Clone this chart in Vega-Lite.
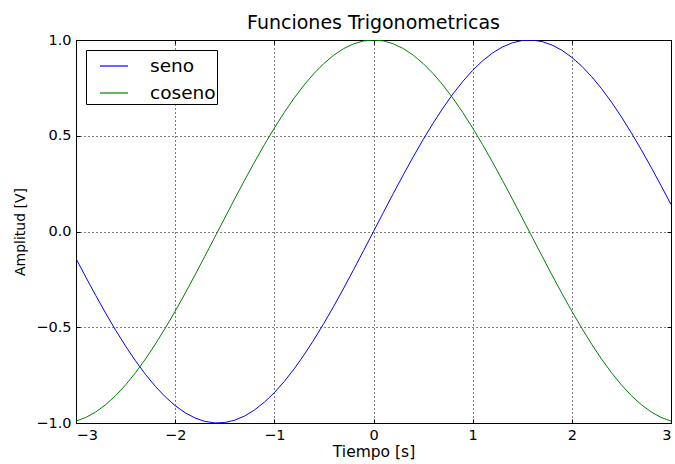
{
  "$schema": "https://vega.github.io/schema/vega-lite/v6.json",
  "autosize": "none",
  "width": 595,
  "height": 383,
  "padding": {"left": 76, "top": 40, "right": 4, "bottom": 41},
  "background": "white",
  "title": {
    "text": "Funciones Trigonometricas",
    "font": "DejaVu Sans",
    "fontSize": 19,
    "fontWeight": "normal",
    "color": "black",
    "anchor": "middle",
    "offset": -1
  },
  "config": {
    "view": {"stroke": "black", "strokeWidth": 1},
    "axis": {
      "labelFont": "DejaVu Sans",
      "labelFontSize": 14.5,
      "labelColor": "black",
      "titleFont": "DejaVu Sans",
      "titleFontWeight": "normal",
      "titleColor": "black",
      "domain": false,
      "tickColor": "black",
      "tickSize": -4,
      "tickWidth": 1,
      "gridColor": "black",
      "gridDash": [1, 3],
      "gridOpacity": 1,
      "gridWidth": 1
    }
  },
  "data": {
    "values": [
      {"t": -3.0, "seno": -0.1411, "coseno": -0.9900},
      {"t": -2.9, "seno": -0.2392, "coseno": -0.9710},
      {"t": -2.8, "seno": -0.3350, "coseno": -0.9422},
      {"t": -2.7, "seno": -0.4274, "coseno": -0.9041},
      {"t": -2.6, "seno": -0.5155, "coseno": -0.8569},
      {"t": -2.5, "seno": -0.5985, "coseno": -0.8011},
      {"t": -2.4, "seno": -0.6755, "coseno": -0.7374},
      {"t": -2.3, "seno": -0.7457, "coseno": -0.6663},
      {"t": -2.2, "seno": -0.8085, "coseno": -0.5885},
      {"t": -2.1, "seno": -0.8632, "coseno": -0.5048},
      {"t": -2.0, "seno": -0.9093, "coseno": -0.4161},
      {"t": -1.9, "seno": -0.9463, "coseno": -0.3233},
      {"t": -1.8, "seno": -0.9738, "coseno": -0.2272},
      {"t": -1.7, "seno": -0.9917, "coseno": -0.1288},
      {"t": -1.6, "seno": -0.9996, "coseno": -0.0292},
      {"t": -1.5, "seno": -0.9975, "coseno": 0.0707},
      {"t": -1.4, "seno": -0.9854, "coseno": 0.1700},
      {"t": -1.3, "seno": -0.9636, "coseno": 0.2675},
      {"t": -1.2, "seno": -0.9320, "coseno": 0.3624},
      {"t": -1.1, "seno": -0.8912, "coseno": 0.4536},
      {"t": -1.0, "seno": -0.8415, "coseno": 0.5403},
      {"t": -0.9, "seno": -0.7833, "coseno": 0.6216},
      {"t": -0.8, "seno": -0.7174, "coseno": 0.6967},
      {"t": -0.7, "seno": -0.6442, "coseno": 0.7648},
      {"t": -0.6, "seno": -0.5646, "coseno": 0.8253},
      {"t": -0.5, "seno": -0.4794, "coseno": 0.8776},
      {"t": -0.4, "seno": -0.3894, "coseno": 0.9211},
      {"t": -0.3, "seno": -0.2955, "coseno": 0.9553},
      {"t": -0.2, "seno": -0.1987, "coseno": 0.9801},
      {"t": -0.1, "seno": -0.0998, "coseno": 0.9950},
      {"t": 0.0, "seno": 0.0, "coseno": 1.0},
      {"t": 0.1, "seno": 0.0998, "coseno": 0.9950},
      {"t": 0.2, "seno": 0.1987, "coseno": 0.9801},
      {"t": 0.3, "seno": 0.2955, "coseno": 0.9553},
      {"t": 0.4, "seno": 0.3894, "coseno": 0.9211},
      {"t": 0.5, "seno": 0.4794, "coseno": 0.8776},
      {"t": 0.6, "seno": 0.5646, "coseno": 0.8253},
      {"t": 0.7, "seno": 0.6442, "coseno": 0.7648},
      {"t": 0.8, "seno": 0.7174, "coseno": 0.6967},
      {"t": 0.9, "seno": 0.7833, "coseno": 0.6216},
      {"t": 1.0, "seno": 0.8415, "coseno": 0.5403},
      {"t": 1.1, "seno": 0.8912, "coseno": 0.4536},
      {"t": 1.2, "seno": 0.9320, "coseno": 0.3624},
      {"t": 1.3, "seno": 0.9636, "coseno": 0.2675},
      {"t": 1.4, "seno": 0.9854, "coseno": 0.1700},
      {"t": 1.5, "seno": 0.9975, "coseno": 0.0707},
      {"t": 1.6, "seno": 0.9996, "coseno": -0.0292},
      {"t": 1.7, "seno": 0.9917, "coseno": -0.1288},
      {"t": 1.8, "seno": 0.9738, "coseno": -0.2272},
      {"t": 1.9, "seno": 0.9463, "coseno": -0.3233},
      {"t": 2.0, "seno": 0.9093, "coseno": -0.4161},
      {"t": 2.1, "seno": 0.8632, "coseno": -0.5048},
      {"t": 2.2, "seno": 0.8085, "coseno": -0.5885},
      {"t": 2.3, "seno": 0.7457, "coseno": -0.6663},
      {"t": 2.4, "seno": 0.6755, "coseno": -0.7374},
      {"t": 2.5, "seno": 0.5985, "coseno": -0.8011},
      {"t": 2.6, "seno": 0.5155, "coseno": -0.8569},
      {"t": 2.7, "seno": 0.4274, "coseno": -0.9041},
      {"t": 2.8, "seno": 0.3350, "coseno": -0.9422},
      {"t": 2.9, "seno": 0.2392, "coseno": -0.9710},
      {"t": 3.0, "seno": 0.1411, "coseno": -0.9900}
    ]
  },
  "transform": [
    {"fold": ["seno", "coseno"], "as": ["serie", "valor"]}
  ],
  "layer": [
    {
      "mark": {"type": "line", "strokeWidth": 1, "clip": true},
      "encoding": {
        "x": {
          "field": "t",
          "type": "quantitative",
          "scale": {"domain": [-3, 3], "nice": false, "zero": false},
          "axis": {
            "orient": "bottom",
            "values": [-3, -2, -1, 0, 1, 2, 3],
            "format": "d",
            "title": "Tiempo [s]",
            "titleFontSize": 15.5,
            "labelPadding": 9,
            "titlePadding": 3
          }
        },
        "y": {
          "field": "valor",
          "type": "quantitative",
          "scale": {"domain": [-1, 1], "nice": false, "zero": false},
          "axis": {
            "orient": "left",
            "values": [-1, -0.5, 0, 0.5, 1],
            "format": ".1f",
            "title": "Amplitud [V]",
            "titleFontSize": 14,
            "labelPadding": 9,
            "titlePadding": 8
          }
        },
        "color": {
          "field": "serie",
          "type": "nominal",
          "scale": {"domain": ["seno", "coseno"], "range": ["#0000ff", "#008000"]},
          "legend": {
            "title": null,
            "orient": "none",
            "legendX": 10,
            "legendY": 10,
            "direction": "vertical",
            "symbolType": "stroke",
            "symbolSize": 784,
            "symbolStrokeWidth": 1.2,
            "symbolOffset": 12,
            "labelFont": "DejaVu Sans",
            "labelFontSize": 18.5,
            "labelColor": "black",
            "labelOffset": 21,
            "rowPadding": 2,
            "padding": 1,
            "strokeColor": "black",
            "fillColor": "white",
            "cornerRadius": 0
          }
        }
      }
    },
    {
      "mark": {"type": "line", "opacity": 0},
      "encoding": {
        "x": {
          "field": "t",
          "type": "quantitative",
          "scale": {"domain": [-3, 3], "nice": false, "zero": false},
          "axis": {
            "orient": "top",
            "values": [-3, -2, -1, 0, 1, 2, 3],
            "labels": false,
            "grid": false,
            "title": null
          }
        },
        "y": {
          "field": "valor",
          "type": "quantitative",
          "scale": {"domain": [-1, 1], "nice": false, "zero": false},
          "axis": {
            "orient": "right",
            "values": [-1, -0.5, 0, 0.5, 1],
            "labels": false,
            "grid": false,
            "title": null
          }
        },
        "detail": {"field": "serie"}
      }
    }
  ],
  "resolve": {"axis": {"x": "independent", "y": "independent"}}
}
